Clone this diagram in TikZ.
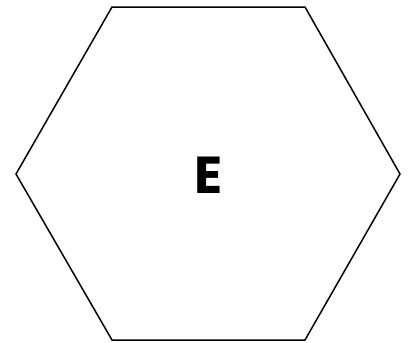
\documentclass[tikz,border=0pt]{standalone}
\usepackage{fontspec}
\newfontfamily\labelfont{Poppins}
\begin{document}
\begin{tikzpicture}[x=1pt,y=-1pt,
  hexline/.style={draw=black,line width=1.5pt,line join=miter},
  hexlabel/.style={font=\labelfont\fontsize{52}{60}\selectfont\bfseries,text=black}]
\useasboundingbox (0,0) rectangle (410,343);
\coordinate (p1) at (112,7);
\coordinate (p2) at (305,7);
\coordinate (p3) at (400,174);
\coordinate (p4) at (305,340);
\coordinate (p5) at (112,340);
\coordinate (p6) at (16,174);
\draw[hexline] (p1) -- (p2) -- (p3) -- (p4) -- (p5) -- (p6) -- cycle;
\node[hexlabel,inner sep=0pt] (e) at (209,175) {E};
\end{tikzpicture}
\end{document}
